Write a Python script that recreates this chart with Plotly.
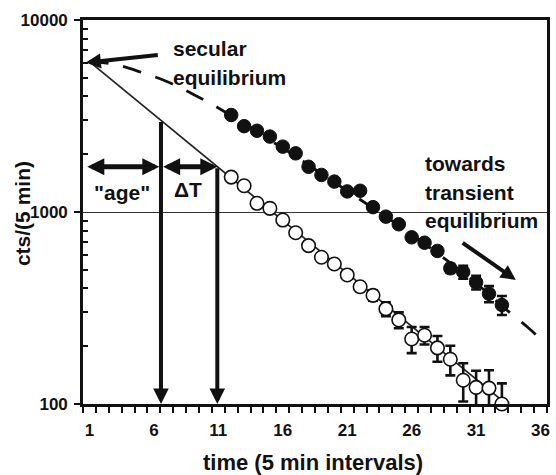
import numpy as np
import plotly.graph_objects as go

# ---------------- data ----------------
intervals = [12, 13, 14, 15, 16, 17, 18, 19, 20, 21, 22,
             23, 24, 25, 26, 27, 28, 29, 30, 31, 32, 33]
parent_cts = [3200, 2800, 2650, 2470, 2190, 2020, 1720, 1560, 1440, 1280, 1290,
              1060, 946, 863, 738, 692, 627, 509, 487, 430, 375, 328]
parent_err = [28, 27, 27, 26, 25, 25, 24, 24, 24, 24, 24,
              25, 26, 27, 28, 28, 28, 27, 38, 35, 36, 37]
daughter_cts = [1520, 1370, 1110, 1045, 908, 780, 668, 581, 536, 470, 408,
                368, 313, 274, 218, 228, 196, 171, 133, 122, 121, 100]
daughter_err = [20, 20, 19, 19, 19, 19, 20, 20, 21, 21, 22,
                23, 26, 26, 34, 24, 30, 30, 30, 27, 29, 28]

# dashed curve (towards transient equilibrium)
transient_x = [1, 3, 5, 7, 9, 11, 13, 15, 17, 19, 21, 23, 25, 27, 29, 31, 33, 35, 36]
transient_y = [6067, 5861, 5346, 4786, 4121, 3483, 2884, 2371, 1950, 1585, 1288,
               1047, 851, 684, 543, 427, 324, 251, 218]

# solid line (pure decay from secular equilibrium)
fit_x = [1, 34]
fit_y = [6070, 92]

x_ticks = [1, 6, 11, 16, 21, 26, 31, 36]
y_ticks = [100, 1000, 10000]
y_minor = [200, 300, 400, 500, 600, 700, 800, 900,
           2000, 3000, 4000, 5000, 6000, 7000, 8000, 9000]

age_end = 6.55   # interval where the "age" arrow ends
dT_end = 10.92   # interval where delta T ends

FONT = "Liberation Sans, Arial, sans-serif"
INK = "#111111"


def fit_at(x):
    return float(np.interp(x, fit_x, np.log10(fit_y)))


fig = go.Figure()

fig.add_trace(go.Scatter(
    x=transient_x, y=transient_y, mode="lines", line_shape="spline",
    line=dict(color=INK, width=2.8, dash="19px,15px"), hoverinfo="skip"))

fig.add_trace(go.Scatter(
    x=fit_x, y=fit_y, mode="lines",
    line=dict(color="#222222", width=1.7), hoverinfo="skip"))

fig.add_trace(go.Scatter(
    x=intervals, y=daughter_cts, mode="markers", cliponaxis=False,
    marker=dict(symbol="circle", size=13.5, color="white",
                line=dict(color=INK, width=1.6)),
    error_y=dict(type="data", array=daughter_err, color=INK,
                 thickness=2.6, width=5)))

fig.add_trace(go.Scatter(
    x=intervals, y=parent_cts, mode="markers", cliponaxis=False,
    marker=dict(symbol="circle", size=13.5, color=INK,
                line=dict(color=INK, width=1)),
    error_y=dict(type="data", array=parent_err, color=INK,
                 thickness=2.6, width=5)))

annotations = []


def arrow(x_tail, ly_tail, x_tip, ly_tip, width, size, head=2, both=False):
    annotations.append(dict(
        x=x_tip, y=ly_tip, ax=x_tail, ay=ly_tail,
        xref="x", yref="y", axref="x", ayref="y",
        text="", showarrow=True, arrowhead=head, startarrowhead=head,
        arrowside="end+start" if both else "end",
        arrowwidth=width, arrowsize=size, startarrowsize=size,
        arrowcolor=INK, standoff=0, startstandoff=0))


# secular equilibrium arrow
arrow(6.42, 3.818, 0.72, 3.778, 4, 0.75)
# towards transient equilibrium arrow
arrow(29.84, 2.845, 34.08, 2.646, 4, 0.75)
# horizontal double arrows
y_h = fit_at(dT_end)
arrow(0.72, y_h, 6.42, y_h, 5, 0.68, both=True)
arrow(6.6, y_h, dT_end, y_h, 5, 0.68, both=True)
# vertical arrows
arrow(age_end, fit_at(age_end), age_end, 2.0, 4, 0.78)
arrow(dT_end, fit_at(dT_end), dT_end, 2.0, 4, 0.78)


def label(text, x, ly, anchor="left", size=21):
    annotations.append(dict(
        x=x, y=ly, xref="x", yref="y", text=text, showarrow=False,
        xanchor=anchor, yanchor="middle",
        font=dict(family=FONT, size=size, color=INK, weight="bold")))


label("secular", 7.34, 3.854)
label("equilibrium", 7.34, 3.698)
label('"age"', 3.49, 3.099, anchor="center")
label("ΔT", 8.62, 3.115, anchor="center")
label("towards", 26.86, 3.255)
label("transient", 26.86, 3.104)
label("equilibrium", 26.86, 2.958)

# axis titles as annotations
annotations.append(dict(
    x=-0.129, y=0.495, xref="paper", yref="paper", text="cts/(5 min)",
    textangle=-90, showarrow=False, xanchor="center", yanchor="middle",
    font=dict(family=FONT, size=21, color=INK, weight="bold")))
annotations.append(dict(
    x=0.4965, y=-0.153, xref="paper", yref="paper",
    text="time (5 min intervals)", showarrow=False,
    xanchor="center", yanchor="middle",
    font=dict(family=FONT, size=22, color=INK, weight="bold")))

fig.update_layout(
    width=556, height=475,
    margin=dict(l=83, r=6, t=20, b=71),
    paper_bgcolor="white", plot_bgcolor="white",
    showlegend=False,
    annotations=annotations,
    font=dict(family=FONT, color=INK),
)

fig.update_xaxes(
    range=[0.5, 36.5], tickmode="array", tickvals=x_ticks,
    ticks="", showgrid=False, zeroline=False,
    showline=True, linecolor=INK, linewidth=2.6, mirror=True,
    tickfont=dict(family=FONT, size=17, color=INK, weight="bold"),
    ticklabelstandoff=9,
    minor=dict(tickmode="array",
               tickvals=[0.5 + i for i in range(37)],
               ticks="outside", ticklen=6, tickwidth=1.6, tickcolor=INK,
               showgrid=False),
)

fig.update_yaxes(
    type="log", range=[2, 4], tickmode="array", tickvals=y_ticks,
    ticktext=["100", "1000", "10000"],
    ticks="outside", ticklen=6, tickwidth=2, tickcolor=INK,
    showgrid=True, gridcolor="#333333", gridwidth=1,
    zeroline=False,
    showline=True, linecolor=INK, linewidth=2.6, mirror=True,
    tickfont=dict(family=FONT, size=17, color=INK, weight="bold"),
    ticklabelstandoff=3,
    minor=dict(tickmode="array", tickvals=y_minor,
               ticks="inside", ticklen=5, tickwidth=1.6, tickcolor=INK,
               showgrid=False),
)

fig.write_html("out.html")
